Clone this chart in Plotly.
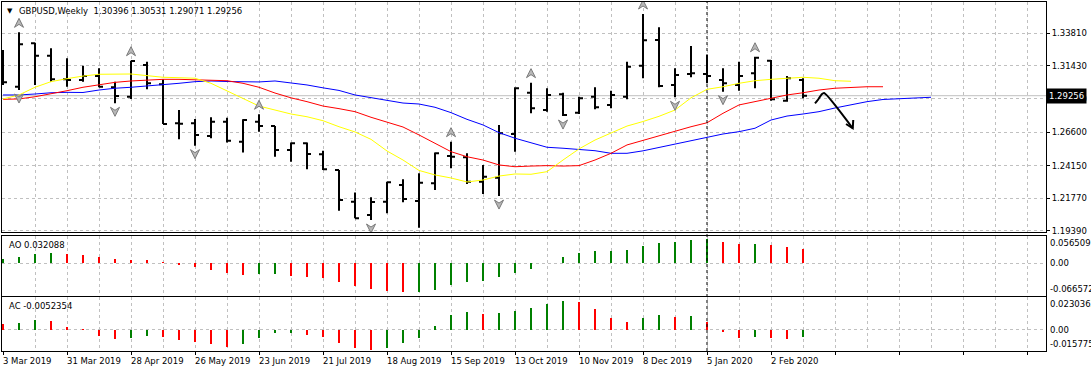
import plotly.graph_objects as go

# ---------------- data ----------------
date_labels = ["3 Mar 2019", "31 Mar 2019", "28 Apr 2019", "26 May 2019", "23 Jun 2019",
               "21 Jul 2019", "18 Aug 2019", "15 Sep 2019", "13 Oct 2019", "10 Nov 2019",
               "8 Dec 2019", "5 Jan 2020", "2 Feb 2020"]
date_label_idx = [0, 4, 8, 12, 16, 20, 24, 28, 32, 36, 40, 44, 48]

opens = [1.3200, 1.2991, 1.3308, 1.3218, 1.3045, 1.3040, 1.3069, 1.2987, 1.2918, 1.3150,
         1.3009, 1.2724, 1.2724, 1.2631, 1.2736, 1.2590, 1.2735, 1.2704, 1.2529, 1.2578,
         1.2498, 1.2383, 1.2152, 1.2055, 1.2152, 1.2274, 1.2157, 1.2286, 1.2485, 1.2476,
         1.2298, 1.2327, 1.2646, 1.2948, 1.2821, 1.2936, 1.2801, 1.2918, 1.2858, 1.2918,
         1.3145, 1.3332, 1.3004, 1.3084, 1.3084, 1.3040, 1.3004, 1.3089, 1.3181, 1.2889,
         1.30396]
highs = [1.3259, 1.3388, 1.3313, 1.3272, 1.3199, 1.3145, 1.3126, 1.3028, 1.3181, 1.3174,
         1.3045, 1.2821, 1.2756, 1.2768, 1.2765, 1.2753, 1.2790, 1.2704, 1.2583, 1.2583,
         1.2524, 1.2383, 1.2218, 1.2184, 1.2298, 1.2315, 1.2359, 1.2510, 1.2590, 1.2505,
         1.2420, 1.2712, 1.2987, 1.3021, 1.2980, 1.2948, 1.2918, 1.2987, 1.2962, 1.3174,
         1.3522, 1.3425, 1.3126, 1.3288, 1.3223, 1.3126, 1.3174, 1.3210, 1.3186, 1.3069,
         1.30531]
lows = [1.3004, 1.2967, 1.3004, 1.3028, 1.2991, 1.3028, 1.2987, 1.2870, 1.2902, 1.2972,
        1.2719, 1.2607, 1.2561, 1.2615, 1.2583, 1.2510, 1.2663, 1.2480, 1.2444, 1.2388,
        1.2383, 1.2086, 1.2031, 1.2018, 1.2067, 1.2147, 1.1962, 1.2237, 1.2396, 1.2281,
        1.2208, 1.2193, 1.2517, 1.2797, 1.2809, 1.2777, 1.2792, 1.2826, 1.2834, 1.2899,
        1.3053, 1.2987, 1.2914, 1.3060, 1.3016, 1.2955, 1.2962, 1.2980, 1.2889, 1.2882,
        1.29071]
closes = [1.3023, 1.3301, 1.3218, 1.3045, 1.3040, 1.3069, 1.2991, 1.2923, 1.3179, 1.3016,
          1.2719, 1.2720, 1.2639, 1.2736, 1.2597, 1.2748, 1.2704, 1.2529, 1.2578, 1.2500,
          1.2388, 1.2164, 1.2031, 1.2150, 1.2293, 1.2172, 1.2290, 1.2505, 1.2480, 1.2298,
          1.2334, 1.2651, 1.2980, 1.2834, 1.2931, 1.2785, 1.2907, 1.2841, 1.2931, 1.3137,
          1.3330, 1.2996, 1.3077, 1.3089, 1.3069, 1.3016, 1.3069, 1.3203, 1.2899, 1.3053,
          1.29256]

# Alligator lines (shifted forward, so they run past the last bar)
jaw_blue = [1.2931, 1.2931, 1.2938, 1.2947, 1.2950, 1.2949, 1.2967, 1.2980, 1.2987, 1.2996,
            1.3004, 1.3016, 1.3028, 1.3033, 1.3029, 1.3026, 1.3026, 1.3033, 1.3018, 1.3004,
            1.2983, 1.2964, 1.2931, 1.2910, 1.2894, 1.2872, 1.2865, 1.2841, 1.2802, 1.2753,
            1.2712, 1.2656, 1.2615, 1.2583, 1.2549, 1.2542, 1.2534, 1.2524, 1.2505, 1.2505,
            1.2523, 1.2547, 1.2573, 1.2595, 1.2622, 1.2646, 1.2663, 1.2688, 1.2748, 1.2777,
            1.2792, 1.2809, 1.2836, 1.2858, 1.2882, 1.2898, 1.2905, 1.2909, 1.2914]
teeth_red = [1.2899, 1.2902, 1.2918, 1.2938, 1.2962, 1.2987, 1.3004, 1.3023, 1.3033, 1.3040,
             1.3045, 1.3045, 1.3040, 1.3035, 1.3035, 1.3016, 1.2987, 1.2945, 1.2910, 1.2882,
             1.2850, 1.2831, 1.2809, 1.2768, 1.2732, 1.2697, 1.2639, 1.2578, 1.2517, 1.2480,
             1.2456, 1.2420, 1.2407, 1.2412, 1.2415, 1.2412, 1.2415, 1.2456, 1.2505, 1.2566,
             1.2600, 1.2633, 1.2666, 1.2699, 1.2728, 1.2797, 1.2858, 1.2882, 1.2907, 1.2931,
             1.2947, 1.2967, 1.2980, 1.2987, 1.2991, 1.2991]
lips_yellow = [1.2902, 1.2931, 1.2987, 1.3028, 1.3050, 1.3069, 1.3082, 1.3084, 1.3084, 1.3072,
               1.3060, 1.3057, 1.3053, 1.3016, 1.2962, 1.2907, 1.2850, 1.2821, 1.2792, 1.2772,
               1.2743, 1.2699, 1.2661, 1.2607, 1.2522, 1.2456, 1.2380, 1.2347, 1.2325, 1.2296,
               1.2310, 1.2339, 1.2354, 1.2352, 1.2371, 1.2456, 1.2537, 1.2602, 1.2656, 1.2704,
               1.2737, 1.2775, 1.2821, 1.2910, 1.2972, 1.2991, 1.3016, 1.3035, 1.3045, 1.3055,
               1.3060, 1.3053, 1.3035, 1.3031]

fractal_up_idx = [1, 8, 16, 28, 33, 40, 47]
fractal_down_idx = [1, 7, 12, 23, 26, 31, 35, 42, 45]

ao_values = [0.0089, 0.0142, 0.0204, 0.0234, 0.0211, 0.0181, 0.0142, 0.0096, 0.0080, 0.0066,
             0.0027, -0.0034, -0.0087, -0.0149, -0.0218, -0.0262, -0.0252, -0.0246, -0.0286, -0.0309,
             -0.0332, -0.0424, -0.0522, -0.0584, -0.0637, -0.066572, -0.0660, -0.0607, -0.0492, -0.0431,
             -0.0401, -0.0309, -0.0218, -0.0126, -0.0006, 0.0142, 0.0234, 0.0279, 0.0283, 0.0302,
             0.0394, 0.0463, 0.0485, 0.0531, 0.056509, 0.0480, 0.0435, 0.0440, 0.0410, 0.0365,
             0.032088]
ac_values = [0.0047, 0.0057, 0.0079, 0.0071, 0.0026, 0.0008, -0.0050, -0.0073, -0.0065, -0.0050,
             -0.0053, -0.0081, -0.0097, -0.0112, -0.0131, -0.0112, -0.0065, -0.0026, -0.0024, -0.0042,
             -0.0053, -0.0105, -0.0144, -0.015775, -0.0139, -0.0106, -0.0061, 0.0031, 0.0120, 0.0144,
             0.0128, 0.0136, 0.0152, 0.0175, 0.0207, 0.0230363, 0.0222, 0.0167, 0.0097, 0.0065,
             0.0097, 0.0120, 0.0105, 0.0107, 0.0065, -0.0018, -0.0061, -0.0053, -0.0061, -0.0068,
             -0.0052354]

price_ticks = [1.33810, 1.31430, 1.29050, 1.26600, 1.24150, 1.21770, 1.19390]
price_tick_text = ["1.33810", "1.31430", "1.29050", "1.26600", "1.24150", "1.21770", "1.19390"]
last_price = 1.29256
ao_scale_labels = ["0.056509", "0.00", "-0.066572"]
ac_scale_labels = ["0.0230363", "0.00", "-0.015775"]

# hand-drawn arrow on the chart (bar index, price)
drawn_x = [50.75, 50.95, 51.17, 51.32, 53.11]
drawn_y = [1.2870, 1.2898, 1.2936, 1.2946, 1.2688]
drawn_head_x = [52.69, 53.11, 53.14]
drawn_head_y = [1.2719, 1.2688, 1.2748]
cursor_idx = 44

# ---------------- layout constants ----------------
W, H = 1091, 373
ML, MR, MT, MB = 2, 45, 2, 22
FONT = "Tahoma, 'DejaVu Sans', sans-serif"
FS = 8.5
GRID = "#c0c0c0"
XR = [-0.0625, 65.1875]
main_rng = [1.19306, 1.36096]
ao_rng = [-0.0740, 0.0634]
ac_rng = [-0.0165, 0.0259]
dom_main = [0.3410, 1.0]
dom_ao = [0.1590, 0.3309]
dom_ac = [0.0, 0.1547]

idx = list(range(len(opens)))

fig = go.Figure()

fig.add_trace(go.Ohlc(x=idx, open=opens, high=highs, low=lows, close=closes,
                      increasing=dict(line=dict(color="black", width=2)),
                      decreasing=dict(line=dict(color="black", width=2)),
                      tickwidth=0.25, xaxis="x", yaxis="y", hoverinfo="skip", showlegend=False))

for vals, col in [(jaw_blue, "#0000ff"), (teeth_red, "#ff0000"), (lips_yellow, "#ffff00")]:
    fig.add_trace(go.Scatter(x=list(range(len(vals))), y=vals, mode="lines",
                             line=dict(color=col, width=1), xaxis="x", yaxis="y",
                             hoverinfo="skip", showlegend=False))

fig.add_trace(go.Scatter(x=drawn_x, y=drawn_y, mode="lines",
                         line=dict(color="black", width=2, shape="spline", smoothing=0.6),
                         xaxis="x", yaxis="y", hoverinfo="skip", showlegend=False))
fig.add_trace(go.Scatter(x=drawn_head_x, y=drawn_head_y, mode="lines",
                         line=dict(color="black", width=2), xaxis="x", yaxis="y",
                         hoverinfo="skip", showlegend=False))


def bar_colors(vals, first):
    cols = [first]
    for i in range(1, len(vals)):
        cols.append("#008000" if vals[i] > vals[i - 1] else "#ff0000")
    return cols


fig.add_trace(go.Bar(x=idx, y=ao_values, marker=dict(color=bar_colors(ao_values, "#008000"), line=dict(width=0)),
                     width=0.16, xaxis="x2", yaxis="y2", hoverinfo="skip", showlegend=False))
fig.add_trace(go.Bar(x=idx, y=ac_values, marker=dict(color=bar_colors(ac_values, "#ff0000"), line=dict(width=0)),
                     width=0.16, xaxis="x3", yaxis="y3", hoverinfo="skip", showlegend=False))

shapes = []
# bid line
shapes.append(dict(type="line", xref="x domain", x0=0, x1=1, yref="y", y0=last_price, y1=last_price,
                   line=dict(color="#c0c0c0", width=1), layer="below"))
# vertical cursor line through all panels
shapes.append(dict(type="line", xref="x", x0=cursor_idx, x1=cursor_idx, yref="paper", y0=0, y1=1,
                   line=dict(color="black", width=1, dash="3px,3px")))
# fractal arrows
for i in fractal_up_idx:
    shapes.append(dict(type="path", xref="x", yref="y", xsizemode="pixel", ysizemode="pixel",
                       xanchor=i, yanchor=highs[i],
                       path="M0,14 L4.5,5 L0,8 L-4.5,5 Z",
                       fillcolor="#b8b8b8", line=dict(color="#7a7a7a", width=1)))
for i in fractal_down_idx:
    shapes.append(dict(type="path", xref="x", yref="y", xsizemode="pixel", ysizemode="pixel",
                       xanchor=i, yanchor=lows[i],
                       path="M0,-13 L4.5,-4 L0,-7 L-4.5,-4 Z",
                       fillcolor="#b8b8b8", line=dict(color="#7a7a7a", width=1)))

ann = []
f = dict(family=FONT, size=FS, color="black")
ann.append(dict(text="▼", xref="paper", x=0, xanchor="left", xshift=3, yref="paper", y=1,
                yanchor="top", yshift=-3, showarrow=False, font=dict(family=FONT, size=7, color="black")))
ann.append(dict(text="GBPUSD,Weekly  1.30396 1.30531 1.29071 1.29256", xref="paper", x=0, xanchor="left",
                xshift=15, yref="paper", y=1, yanchor="top", yshift=-2, showarrow=False, font=f))
ann.append(dict(text="AO 0.032088", xref="paper", x=0, xanchor="left", xshift=5, yref="y2 domain", y=1,
                yanchor="top", yshift=-2, showarrow=False, font=f))
ann.append(dict(text="AC -0.0052354", xref="paper", x=0, xanchor="left", xshift=5, yref="y3 domain", y=1,
                yanchor="top", yshift=-2, showarrow=False, font=f))
# indicator scale labels
for txt, yr, yv, anc in [(ao_scale_labels[0], "y2 domain", 1, "top"), (ao_scale_labels[1], "y2", 0, "middle"),
                         (ao_scale_labels[2], "y2 domain", 0, "bottom"),
                         (ac_scale_labels[0], "y3 domain", 1, "top"), (ac_scale_labels[1], "y3", 0, "middle"),
                         (ac_scale_labels[2], "y3 domain", 0, "bottom")]:
    ann.append(dict(text=txt, xref="paper", x=1, xanchor="left", xshift=2, yref=yr, y=yv, yanchor=anc,
                    showarrow=False, font=f))
# current price box
ann.append(dict(text="1.29256", xref="paper", x=1, xanchor="left", xshift=0, yref="y", y=last_price,
                yanchor="middle", showarrow=False, bgcolor="black", borderpad=2,
                font=dict(family=FONT, size=FS, color="white")))
# date labels
for i, t in zip(date_label_idx, date_labels):
    ann.append(dict(text=t, xref="x3", x=i, xanchor="left", xshift=-2, yref="paper", y=0,
                    yanchor="top", yshift=-3, showarrow=False, font=f))

xcommon = dict(range=XR, tickmode="linear", tick0=0, dtick=4, showgrid=True, gridcolor=GRID, griddash="3px,3px",
               gridwidth=1, minor=dict(dtick=2, showgrid=True, gridcolor=GRID, griddash="3px,3px", gridwidth=1),
               showline=True, linecolor="black", linewidth=1, mirror=True, zeroline=False,
               showticklabels=False, fixedrange=True, rangeslider=dict(visible=False))

fig.update_layout(
    width=W, height=H, autosize=False,
    margin=dict(l=ML, r=MR, t=MT, b=MB, pad=0),
    paper_bgcolor="white", plot_bgcolor="white",
    font=f, showlegend=False, bargap=0,
    xaxis=dict(**xcommon, anchor="y", ticks=""),
    xaxis2=dict(**xcommon, anchor="y2", ticks=""),
    xaxis3=dict(**xcommon, anchor="y3", ticks="outside", ticklen=3, tickcolor="black"),
    yaxis=dict(domain=dom_main, range=main_rng, side="right", tickmode="array", tickvals=price_ticks,
               ticktext=price_tick_text, ticks="outside", ticklen=3, tickcolor="black",
               tickfont=f, showgrid=True, gridcolor=GRID, griddash="3px,3px", zeroline=False,
               showline=True, linecolor="black", mirror=True, fixedrange=True),
    yaxis2=dict(domain=dom_ao, range=ao_rng, side="right", tickmode="array", tickvals=[0],
                showticklabels=False, ticks="", showgrid=True, gridcolor=GRID, griddash="3px,3px",
                zeroline=False, showline=True, linecolor="black", mirror=True, fixedrange=True),
    yaxis3=dict(domain=dom_ac, range=ac_rng, side="right", tickmode="array", tickvals=[0],
                showticklabels=False, ticks="", showgrid=True, gridcolor=GRID, griddash="3px,3px",
                zeroline=False, showline=True, linecolor="black", mirror=True, fixedrange=True),
    shapes=shapes, annotations=ann,
)

fig.write_html("out.html", config={"displayModeBar": False, "staticPlot": True},
               post_script="document.body.style.margin='0';document.body.style.overflow='hidden';")
